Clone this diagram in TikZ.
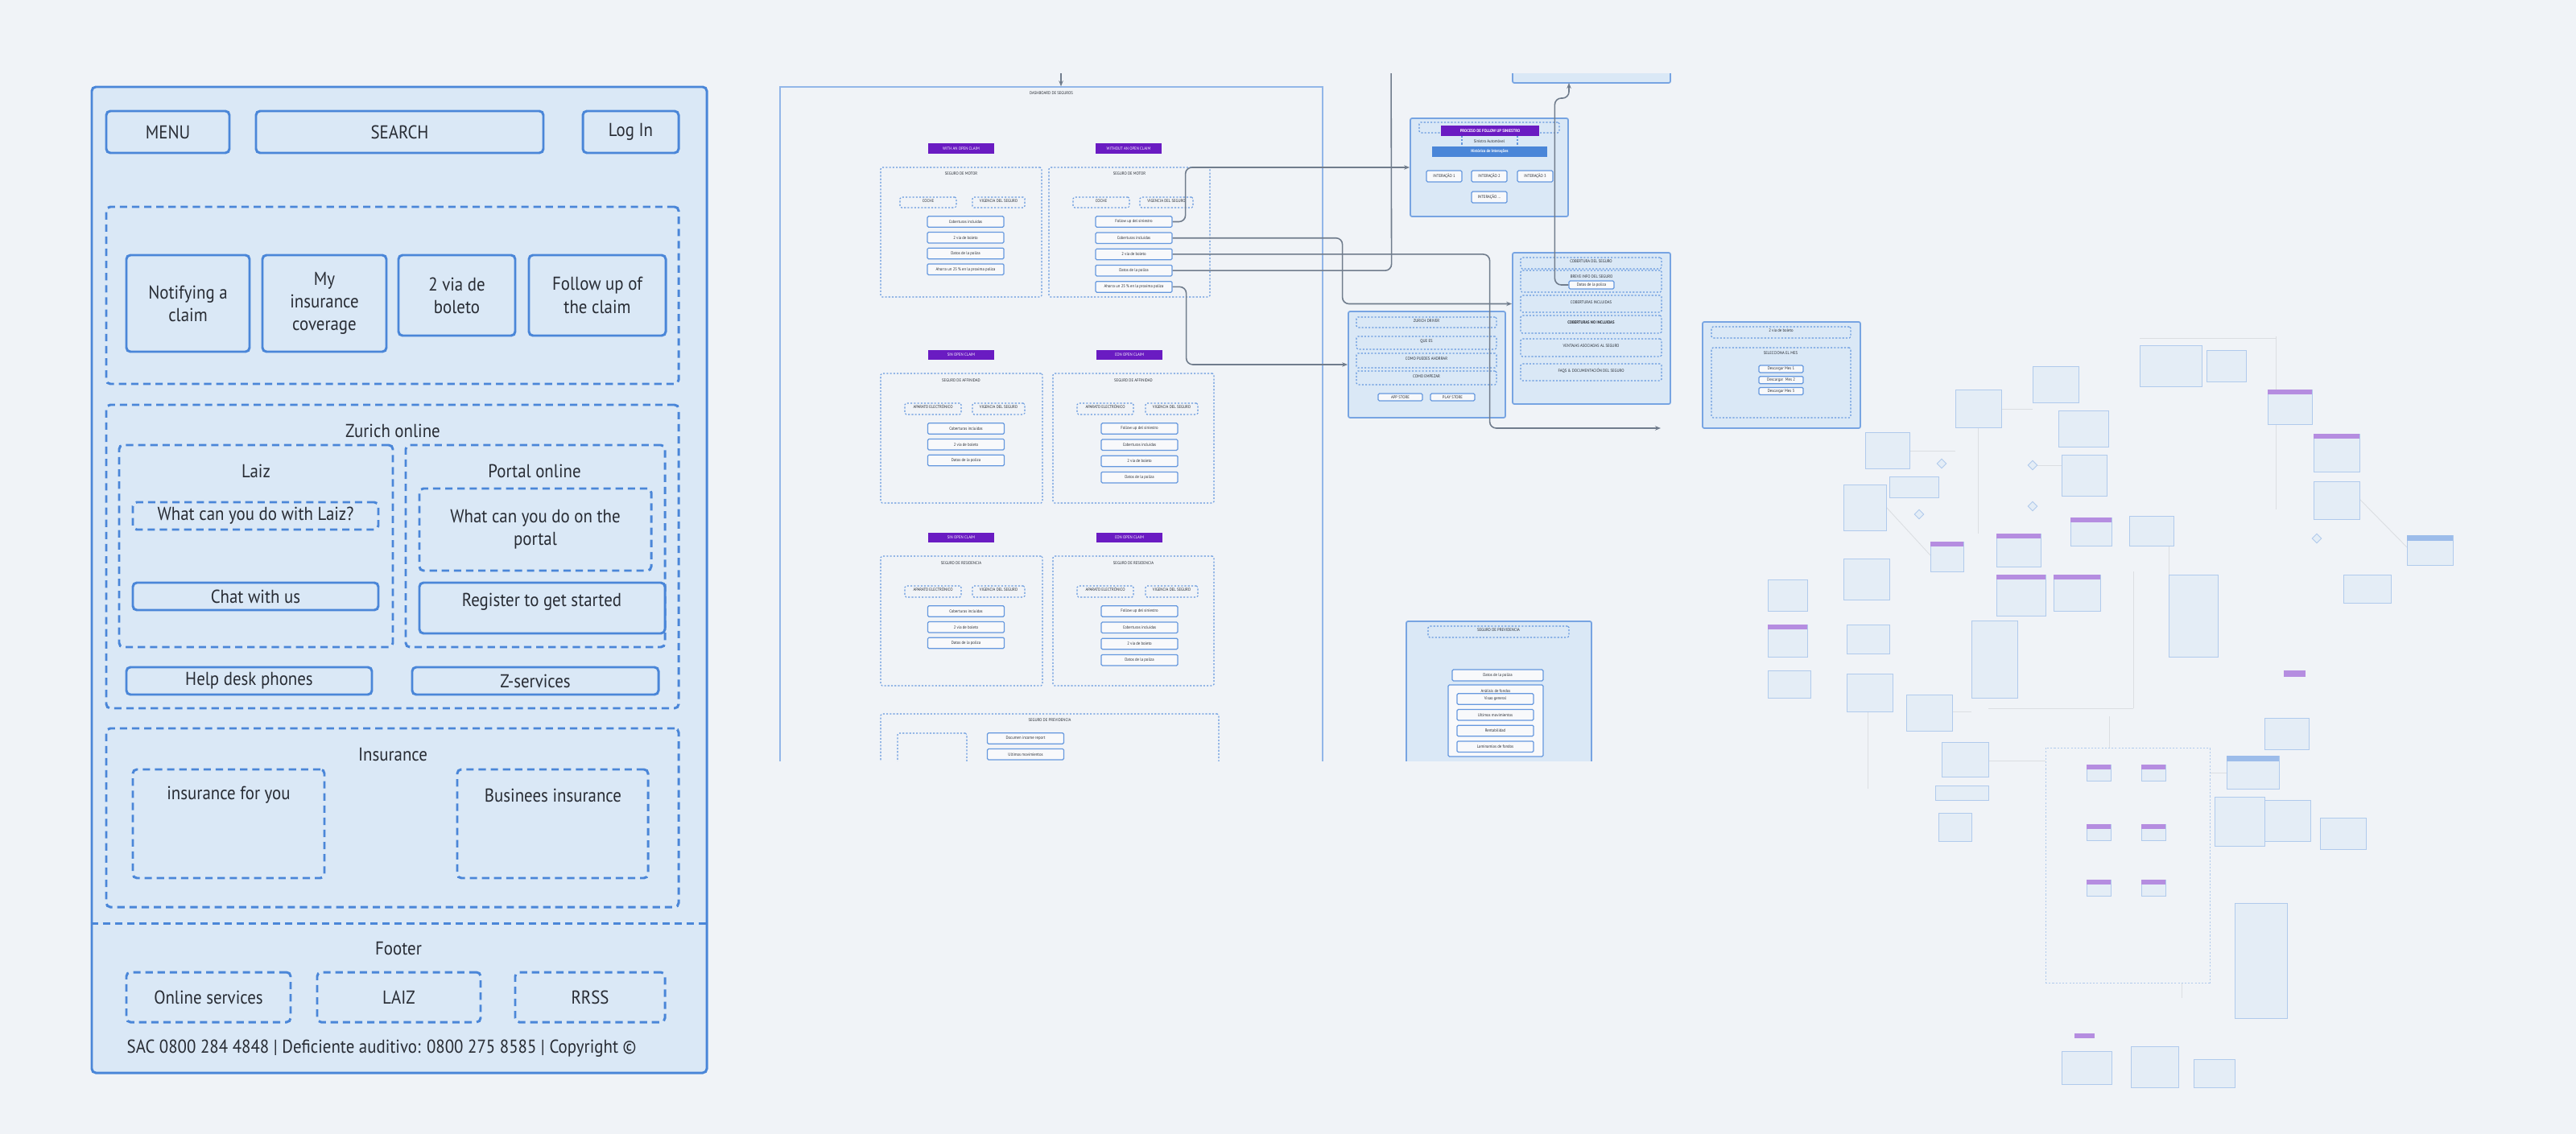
\documentclass[tikz,border=0pt]{standalone}
\usepackage{fontspec}
\setmainfont{PT Sans}[FakeStretch=0.9]
\usepackage{tikz}
\usetikzlibrary{arrows.meta,positioning,fit,calc,shapes.geometric}
\definecolor{pagebg}{RGB}{240,243,247}
\definecolor{wirefill}{RGB}{218,232,246}
\definecolor{wireblue}{RGB}{74,134,216}
\definecolor{inkgray}{RGB}{40,44,52}
\definecolor{claimpurple}{RGB}{106,27,194}
\definecolor{linegray}{RGB}{112,124,140}
\definecolor{ghostblue}{RGB}{176,202,236}
\newcommand{\wirefont}{\fontsize{6.6}{8}\selectfont}
\newcommand{\mapfont}{\fontsize{1.5}{1.8}\selectfont}

\begin{document}
\begin{tikzpicture}[
        wirebox/.style={draw=wireblue,line width=0.85pt,rounded corners=0.05cm,fill=wirefill,
                        inner sep=0pt,font=\wirefont,text=inkgray,align=center},
        wiredash/.style={wirebox,dash pattern=on 2.6pt off 1.7pt},
        wiretitle/.style={font=\wirefont,text=inkgray,inner sep=0pt},
        area/.style={draw=wireblue!60,line width=0.4pt,inner sep=0pt},
        card/.style={draw=wireblue!75,fill=wirefill,line width=0.5pt,rounded corners=0.6pt,inner sep=0pt},
        dotbox/.style={draw=wireblue!85,line width=0.3pt,dash pattern=on 0.6pt off 0.6pt,
                       rounded corners=0.5pt,inner sep=0pt,font=\mapfont,text=inkgray},
        smallbox/.style={draw=wireblue!85,fill=pagebg!50!white,line width=0.35pt,rounded corners=0.4pt,
                         inner sep=0pt,font=\mapfont,text=inkgray},
        item/.style={smallbox,minimum width=0.95cm,minimum height=0.135cm},
        tag/.style={fill=claimpurple,text=white,inner sep=0pt,font=\mapfont,
                    minimum width=0.82cm,minimum height=0.125cm},
        maplabel/.style={font=\mapfont,text=inkgray,inner sep=0pt},
        link/.style={draw=linegray,line width=0.45pt,rounded corners=0.08cm},
        linkarr/.style={link,-{Stealth[length=0.7mm,width=0.55mm]}},
        ghost/.style={draw=ghostblue,fill=wirefill!55!pagebg,line width=0.25pt,inner sep=0pt},
        ghostline/.style={draw=linegray!25,line width=0.25pt}]
  \useasboundingbox (0,0) rectangle (32,-14.09);
  \fill[pagebg] (0,0) rectangle (32,-14.09);

  % home page wireframe
  \node[wirebox,fit={(1.14,-1.08) (8.78,-13.33)}] (page) {};
  \node[wirebox,minimum width=1.53cm,minimum height=0.52cm] (menu) at (2.085,-1.64) {MENU};
  \node[wirebox,minimum width=3.57cm,minimum height=0.52cm] (search) at (4.965,-1.64) {SEARCH};
  \node[wirebox,minimum width=1.19cm,minimum height=0.52cm] (login) at (7.835,-1.64) {Log In};

  \node[wiredash,fit={(1.32,-2.57) (8.43,-4.77)}] (quick) {};
  \node[wirebox,minimum width=1.53cm,minimum height=1.2cm] (notify) at (2.335,-3.77) {Notifying a\\claim};
  \node[wirebox,minimum width=1.54cm,minimum height=1.2cm] (mycover) at (4.03,-3.77) {My\\insurance\\coverage};
  \node[wirebox,minimum width=1.45cm,minimum height=1.0cm] (boleto) at (5.675,-3.67) {2 via de\\boleto};
  \node[wirebox,minimum width=1.70cm,minimum height=1.0cm] (followup) at (7.42,-3.67) {Follow up of\\the claim};

  \node[wiredash,fit={(1.32,-5.03) (8.43,-8.80)}] (online) {};
  \node[wiretitle] (onlineT) at (4.88,-5.35) {Zurich online};
  \node[wiredash,fit={(1.48,-5.53) (4.88,-8.04)}] (laiz) {};
  \node[wiretitle] (laizT) at (3.18,-5.85) {Laiz};
  \node[wiredash,minimum width=3.05cm,minimum height=0.34cm] (laizask) at (3.175,-6.41) {What can you do with Laiz?};
  \node[wirebox,minimum width=3.05cm,minimum height=0.34cm] (chat) at (3.175,-7.41) {Chat with us};
  \node[wiredash,fit={(5.04,-5.53) (8.26,-8.04)}] (portal) {};
  \node[wiretitle] (portalT) at (6.64,-5.85) {Portal online};
  \node[wiredash,minimum width=2.88cm,minimum height=1.02cm] (portalask) at (6.65,-6.58) {What can you do on the\\portal};
  \node[wirebox,fit={(5.21,-7.24) (8.26,-7.87)}] (register) {};
  \node[wiretitle] (registerT) at (6.73,-7.48) {Register to get started};
  \node[wirebox,minimum width=3.05cm,minimum height=0.34cm] (helpdesk) at (3.095,-8.46) {Help desk phones};
  \node[wirebox,minimum width=3.06cm,minimum height=0.34cm] (zserv) at (6.65,-8.46) {Z-services};

  \node[wiredash,fit={(1.32,-9.05) (8.43,-11.27)}] (insur) {};
  \node[wiretitle] (insurT) at (4.88,-9.38) {Insurance};
  \node[wiredash,fit={(1.65,-9.56) (4.03,-10.91)}] (foryou) {};
  \node[wiretitle] (foryouT) at (2.84,-9.88) {insurance for you};
  \node[wiredash,fit={(5.68,-9.56) (8.05,-10.91)}] (business) {};
  \node[wiretitle] (businessT) at (6.87,-9.88) {Businees insurance};

  \coordinate (footsep) at (0,-11.47);
  \draw[wireblue,line width=0.85pt,dash pattern=on 2.6pt off 1.7pt]
    (page.west |- footsep) -- (page.east |- footsep);
  \node[wiretitle] (footT) at (4.95,-11.79) {Footer};
  \node[wiredash,minimum width=2.04cm,minimum height=0.62cm] (onlserv) at (2.59,-12.39) {Online services};
  \node[wiredash,minimum width=2.03cm,minimum height=0.62cm] (laizfoot) at (4.955,-12.39) {LAIZ};
  \node[wiredash,minimum width=1.86cm,minimum height=0.62cm] (rrss) at (7.33,-12.39) {RRSS};
  \node[wiretitle,anchor=west] (sac) at (1.57,-13.03)
    {SAC 0800 284 4848 | Deficiente auditivo: 0800 275 8585 | Copyright ©};

  % dashboard flow, cut at top and bottom
  \begin{scope}
    \clip (9.5,-0.92) rectangle (21.0,-9.45);
    \node[area,fit={(9.69,-1.08) (16.43,-10.2)}] (dash) {};
    \node[maplabel] (dashT) at (13.06,-1.16) {DASHBOARD DE SEGUROS};
    \coordinate (dashin) at (13.18,-0.8);

    % motor
    \node[tag] (withT) at (11.94,-1.845) {WITH AN OPEN CLAIM};
    \node[tag] (withoutT) at (14.02,-1.845) {WITHOUT AN OPEN CLAIM};
    \node[dotbox,fit={(10.94,-2.08) (12.94,-3.69)}] (segMa) {};
    \node[dotbox,fit={(13.03,-2.08) (15.03,-3.69)}] (segMb) {};
    \node[maplabel] (segMaT) at (11.94,-2.16) {SEGURO DE MOTOR};
    \node[maplabel] (segMbT) at (14.03,-2.16) {SEGURO DE MOTOR};
    \node[dotbox,fit={(11.18,-2.45) (11.88,-2.58)}] (cocheA) {COCHE};
    \node[dotbox,fit={(12.08,-2.45) (12.73,-2.58)}] (vigMa) {VIGENCIA DEL SEGURO};
    \node[dotbox,fit={(13.33,-2.45) (14.03,-2.58)}] (cocheB) {COCHE};
    \node[dotbox,fit={(14.16,-2.45) (14.82,-2.58)}] (vigMb) {VIGENCIA DEL SEGURO};

    \node[item] (mAcob) at (11.995,-2.755) {Coberturas incluidas};
    \node[item,below=0.05cm of mAcob] (mAvia) {2 via de boleto};
    \node[item,below=0.05cm of mAvia] (mAdat) {Datos de la poliza};
    \node[item,below=0.05cm of mAdat] (mAaho) {Ahorra un 25 \% en la proxima poliza};

    \node[item] (mBfu) at (14.085,-2.755) {Follow up del siniestro};
    \node[item,below=0.055cm of mBfu] (mBcob) {Coberturas incluidas};
    \node[item,below=0.055cm of mBcob] (mBvia) {2 via de boleto};
    \node[item,below=0.055cm of mBvia] (mBdat) {Datos de la poliza};
    \node[item,below=0.055cm of mBdat] (mBaho) {Ahorra un 25 \% en la proxima poliza};

    % affinidad and residencia
    \foreach \seg/\dy [count=\r] in {AFFINIDAD/0,RESIDENCIA/2.27} {
      \begin{scope}[yshift=-\dy cm]
        \node[tag] (sinT\r) at (11.94,-4.41) {SIN OPEN CLAIM};
        \node[tag] (conT\r) at (14.03,-4.41) {CON OPEN CLAIM};
        \node[dotbox,fit={(10.94,-4.64) (12.95,-6.25)}] (segA\r) {};
        \node[dotbox,fit={(13.08,-4.64) (15.08,-6.25)}] (segB\r) {};
        \node[maplabel] (segAT\r) at (11.94,-4.73) {SEGURO DE \seg};
        \node[maplabel] (segBT\r) at (14.08,-4.73) {SEGURO DE \seg};
        \node[dotbox,fit={(11.24,-5.01) (11.94,-5.15)}] (apA\r) {APARATO ELECTRÓNICO};
        \node[dotbox,fit={(12.08,-5.01) (12.73,-5.15)}] (vgA\r) {VIGENCIA DEL SEGURO};
        \node[dotbox,fit={(13.38,-5.01) (14.08,-5.15)}] (apB\r) {APARATO ELECTRÓNICO};
        \node[dotbox,fit={(14.23,-5.01) (14.88,-5.15)}] (vgB\r) {VIGENCIA DEL SEGURO};
        \node[item] (aCob\r) at (12.0,-5.325) {Coberturas incluidas};
        \node[item,below=0.05cm of aCob\r] (aVia\r) {2 via de boleto};
        \node[item,below=0.05cm of aVia\r] (aDat\r) {Datos de la poliza};
        \node[item] (bFu\r) at (14.155,-5.325) {Follow up del siniestro};
        \node[item,below=0.055cm of bFu\r] (bCob\r) {Coberturas incluidas};
        \node[item,below=0.055cm of bCob\r] (bVia\r) {2 via de boleto};
        \node[item,below=0.055cm of bVia\r] (bDat\r) {Datos de la poliza};
      \end{scope}
    }

    % previdencia
    \node[dotbox,fit={(10.94,-8.87) (15.14,-10.2)}] (segP) {};
    \node[maplabel] (segPT) at (13.04,-8.95) {SEGURO DE PREVIDENCIA};
    \node[dotbox,fit={(11.15,-9.11) (12.01,-10.2)}] (segPin) {};
    \node[item] (pIncome) at (12.74,-9.175) {Documen income report};
    \node[item,below=0.05cm of pIncome] (pMov) {Ultimos movimientos};

    % follow up process
    \node[card,fit={(17.52,-1.47) (19.48,-2.69)}] (fubox) {};
    \node[dotbox,fit={(17.63,-1.52) (19.37,-1.65)}] (fuhead) {};
    \node[tag,minimum width=1.22cm,minimum height=0.13cm,font=\mapfont\bfseries] (fuT) at (18.51,-1.625) {PROCESO DE FOLLOW UP SINIESTRO};
    \draw[dotbox] (18.16,-1.69) -- (18.16,-1.82);
    \draw[dotbox] (18.85,-1.69) -- (18.85,-1.82);
    \node[maplabel] (sinT) at (18.50,-1.755) {Sinistro Automóvel};
    \node[fill=wireblue,text=white,inner sep=0pt,font=\mapfont\bfseries,
          minimum width=1.43cm,minimum height=0.13cm] (hist) at (18.505,-1.885) {Histórico de Interações};
    \node[smallbox,minimum width=0.44cm,minimum height=0.14cm] (int1) at (17.94,-2.19) {INTERAÇÃO 1};
    \node[smallbox,minimum width=0.44cm,minimum height=0.14cm] (int2) at (18.50,-2.19) {INTERAÇÃO 2};
    \node[smallbox,minimum width=0.44cm,minimum height=0.14cm] (int3) at (19.07,-2.19) {INTERAÇÃO 3};
    \node[smallbox,minimum width=0.44cm,minimum height=0.14cm] (int4) at (18.50,-2.45) {INTERAÇÃO ...};

    \node[card,fit={(18.79,-0.6) (20.75,-1.03)}] (topbox) {};
    \coordinate (topin) at (19.49,-1.03);

    % cobertura
    \node[card,fit={(18.79,-3.14) (20.75,-5.02)}] (cobbox) {};
    \node[dotbox,fit={(18.89,-3.20) (20.64,-3.34)}] (covT) {COBERTURA DEL SEGURO};
    \node[dotbox,fit={(18.89,-3.36) (20.64,-3.63)}] (breve) {};
    \node[maplabel] (breveT) at (19.77,-3.44) {BREVE INFO DEL SEGURO};
    \node[smallbox,minimum width=0.56cm,minimum height=0.10cm] (bdat) at (19.77,-3.54) {Datos de la poliza};
    \node[dotbox,fit={(18.89,-3.67) (20.64,-3.88)}] (cinc) {COBERTURAS INCLUIDAS};
    \node[dotbox,fit={(18.89,-3.92) (20.64,-4.14)},font=\mapfont\bfseries] (cno) {COBERTURAS NO INCLUIDAS};
    \node[dotbox,fit={(18.89,-4.21) (20.64,-4.43)}] (vent) {VENTAJAS ASOCIADAS AL SEGURO};
    \node[dotbox,fit={(18.89,-4.52) (20.64,-4.73)}] (faqs) {FAQS \& DOCUMENTACIÓN DEL SEGURO};

    % zurich driver
    \node[card,fit={(16.75,-3.87) (18.70,-5.19)}] (drvbox) {};
    \node[dotbox,fit={(16.85,-3.94) (18.59,-4.07)}] (zdrv) {ZURICH DRIVER};
    \node[dotbox,fit={(16.85,-4.18) (18.59,-4.34)}] (quees) {QUE ES};
    \node[dotbox,fit={(16.85,-4.39) (18.59,-4.57)}] (ahorrar) {COMO PUEDES AHORRAR};
    \node[dotbox,fit={(16.85,-4.61) (18.59,-4.78)}] (empezar) {COMO EMPEZAR};
    \node[smallbox,minimum width=0.55cm,minimum height=0.09cm] (appst) at (17.395,-4.935) {APP STORE};
    \node[smallbox,minimum width=0.55cm,minimum height=0.09cm] (playst) at (18.045,-4.935) {PLAY STORE};

    % previdencia detail
    \node[card,fit={(17.47,-7.72) (19.77,-10.0)}] (prevbox) {};
    \node[dotbox,fit={(17.74,-7.78) (19.49,-7.92)}] (prevT) {SEGURO DE PREVIDENCIA};
    \node[smallbox,minimum width=1.13cm,minimum height=0.14cm] (pdat) at (18.605,-8.39) {Datos de la poliza};
    \node[smallbox,fit={(17.99,-8.51) (19.17,-9.40)}] (fondos) {};
    \node[maplabel] (fondosT) at (18.58,-8.585) {Análisis de fondos};
    \node[item] (visao) at (18.575,-8.685) {Visao general};
    \node[item,below=0.05cm of visao] (ultmov) {Ultimos movimientos};
    \node[item,below=0.05cm of ultmov] (rent) {Rentabilidad};
    \node[item,below=0.05cm of rent] (lamin) {Laminamias de fondos};

    % connectors
    \coordinate (viain) at (20.63,-5.32);
    \coordinate (dtop) at (17.28,-0.6);
    \draw[linkarr] (dashin) -- (dashin |- dash.north);
    \draw[linkarr] (mBfu.east) -- ++(0.16,0) |- (fubox.west);
    \draw[linkarr] (mBcob.east) -- ++(2.11,0) |- (cobbox.west |- cinc);
    \draw[linkarr] (mBvia.east) -- ++(3.94,0) |- (viain);
    \draw[link] (mBdat.east) -- ++(2.72,0) -- (dtop);
    \draw[linkarr] (mBaho.east) -- ++(0.17,0) |- (drvbox.west);
    \draw[linkarr] (bdat.west) -- ++(-0.17,0) |- ($(topin)+(0,-0.19)$) -- (topin);
  \end{scope}

  % 2 via de boleto
  \node[card,fit={(21.15,-4.00) (23.11,-5.32)}] (viabox) {};
  \node[dotbox,fit={(21.26,-4.06) (22.99,-4.20)}] (viaT) {2 via de boleto};
  \node[dotbox,fit={(21.26,-4.32) (22.99,-5.19)}] (selmes) {};
  \node[maplabel] (selmesT) at (22.12,-4.39) {SELECCIONA EL MES};
  \node[smallbox,minimum width=0.55cm,minimum height=0.09cm] (mes1) at (22.125,-4.585) {Descargar Mes 1};
  \node[smallbox,minimum width=0.55cm,minimum height=0.09cm,below=0.035cm of mes1] (mes2) {Descargar~ Mes 2};
  \node[smallbox,minimum width=0.55cm,minimum height=0.09cm,below=0.035cm of mes2] (mes3) {Descargar Mes 3};

  % far right overview
  \foreach \xa/\ya/\xb/\yb in {28.27/4.18/28.27/6.33, 24.86/5.08/25.25/5.08,
      23.72/5.60/24.29/5.60, 24.57/5.31/24.57/6.63, 25.25/5.78/25.61/5.78,
      23.43/6.30/23.98/6.90, 26.94/6.78/26.94/7.14, 24.70/9.45/25.41/9.45,
      27.45/9.60/27.66/9.60, 23.20/8.84/23.20/9.80, 26.50/7.10/26.50/8.80,
      24.70/8.80/26.50/8.80, 27.10/12.21/27.10/12.40, 26.58/4.20/28.27/4.20,
      29.31/6.20/29.90/6.80, 26.20/8.90/26.20/9.29, 24.25/8.84/24.49/8.84}
    \draw[ghostline] (\xa,-\ya) -- (\xb,-\yb);
  \node[ghost,dash pattern=on 0.6pt off 0.6pt,fill=none,fit={(25.41,-9.29) (27.45,-12.21)}] (ghframe) {};
  \foreach \xa/\ya/\xb/\yb [count=\i] in {25.25/4.55/25.82/5.00, 24.29/4.84/24.86/5.31,
      25.57/5.10/26.19/5.55, 23.17/5.37/23.72/5.82, 27.41/4.35/27.90/4.74,
      28.17/4.84/28.72/5.27, 28.74/5.39/29.31/5.86, 28.74/5.98/29.31/6.45,
      25.61/5.65/26.17/6.16, 22.90/6.02/23.43/6.59, 23.47/5.92/24.08/6.18,
      23.98/6.73/24.39/7.10, 24.80/6.63/25.35/7.04, 25.72/6.43/26.23/6.78,
      26.45/6.41/27.00/6.78, 29.90/6.65/30.47/7.02, 29.11/7.14/29.70/7.49,
      22.90/6.94/23.47/7.45, 21.96/7.20/22.45/7.59, 21.96/7.76/22.45/8.16,
      21.96/8.33/22.49/8.67, 22.94/7.76/23.47/8.12, 22.94/8.37/23.51/8.84,
      23.68/8.63/24.25/9.08, 24.49/7.71/25.06/8.67, 24.80/7.14/25.41/7.65,
      25.51/7.14/26.09/7.59, 26.94/7.14/27.55/8.16, 28.13/8.92/28.68/9.31,
      24.12/9.22/24.70/9.65, 24.04/9.76/24.70/9.94, 27.66/9.39/28.31/9.80,
      27.51/9.90/28.13/10.51, 28.13/9.94/28.70/10.45, 28.82/10.16/29.39/10.55,
      27.76/11.22/28.41/12.65, 24.08/10.10/24.49/10.45, 25.61/13.06/26.23/13.47,
      26.47/13.00/27.06/13.51, 27.25/13.16/27.76/13.51, 26.58/4.29/27.35/4.80,
      25.92/9.50/26.22/9.70, 26.60/9.50/26.90/9.70, 25.92/10.24/26.22/10.44,
      26.60/10.24/26.90/10.44, 25.92/10.93/26.22/11.13, 26.60/10.93/26.90/11.13}
    \node[ghost,fit={(\xa,-\ya) (\xb,-\yb)}] (gh\i) {};
  \foreach \g in {6,7,12,13,14,20,26,27,42,43,44,45,46,47}
    \fill[claimpurple!50] (gh\g.north west) rectangle ($(gh\g.north east)+(0,-0.06)$);
  \foreach \g in {16,32}
    \fill[wireblue!55] (gh\g.north west) rectangle ($(gh\g.north east)+(0,-0.07)$);
  \node[fill=claimpurple!50,inner sep=0pt,fit={(28.37,-8.33) (28.64,-8.41)}] (ghtagA) {};
  \node[fill=claimpurple!50,inner sep=0pt,fit={(25.77,-12.84) (26.02,-12.90)}] (ghtagB) {};
  \foreach \xc/\yc [count=\i] in {23.84/6.39, 25.25/5.78, 25.25/6.29, 28.78/6.69, 24.12/5.76}
    \node[ghost,diamond,minimum size=0.12cm] (ghd\i) at (\xc,-\yc) {};
\end{tikzpicture}
\end{document}
